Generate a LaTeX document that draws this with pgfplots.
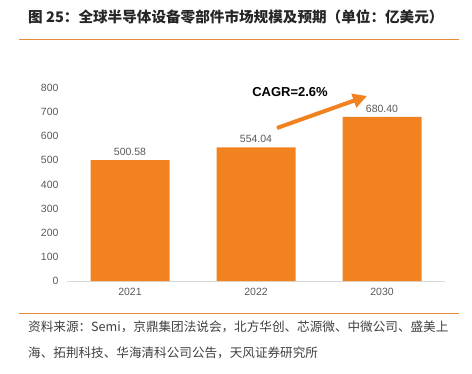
\documentclass[border=0pt]{standalone}
\usepackage{pgfplots}
\pgfplotsset{compat=1.18}
\usepackage{fontspec}
\setmainfont{Liberation Sans}
\newfontfamily\cjk{Noto Sans CJK SC}
\usetikzlibrary{arrows.meta}
\definecolor{barorange}{RGB}{242,130,32}
\definecolor{lineorange}{RGB}{232,140,60}
\definecolor{ticktext}{RGB}{89,89,89}
\definecolor{srctext}{RGB}{64,64,64}
\definecolor{axgray}{RGB}{217,217,217}
\begin{document}
\begin{tikzpicture}[x=1bp,y=1bp]
\useasboundingbox (0,0) rectangle (472,373);
\node[anchor=west,inner sep=0pt,text=black!85] at (28,356) {\cjk\bfseries\fontsize{14.6bp}{16bp}\selectfont 图 25：全球半导体设备零部件市场规模及预期（单位：亿美元）};
\draw[lineorange,line width=1bp] (19,334) -- (459,334);
\draw[lineorange,line width=1bp] (19,60) -- (459,60);
\begin{axis}[
  at={(67bp,92bp)}, anchor=south west,
  scale only axis, width=378bp, height=193bp,
  xmin=-0.5, xmax=2.5, ymin=0, ymax=800,
  ytick={0,100,...,800},
  xtick=data, xticklabels={2021,2022,2030},
  axis x line*=bottom, axis y line*=left,
  x axis line style={draw=axgray,line width=1bp},
  y axis line style={draw=none},
  major tick length=0pt,
  tick label style={font=\fontsize{10.5bp}{12bp}\selectfont, text=ticktext},
  yticklabel style={xshift=-5bp},
  xticklabel style={yshift=-4bp},
  /pgf/number format/assume math mode=true,
  clip=false,
]
\addplot[ybar, bar width=79bp, fill=barorange, draw=none,
  nodes near coords, nodes near coords align={vertical},
  every node near coord/.append style={font=\fontsize{10.5bp}{12bp}\selectfont, text=ticktext, yshift=1bp},
  point meta=explicit symbolic]
  table[meta=lab] {
x y lab
0 500.58 500.58
1 554.04 554.04
2 680.40 680.40
};
\end{axis}
\draw[barorange,line width=4bp,-{Triangle[length=14bp,width=14bp]}] (277,245) -- (367,277);
\node[font=\bfseries\fontsize{13bp}{15bp}\selectfont] at (290,281) {CAGR=2.6\%};
\node[anchor=west,inner sep=0pt,text=srctext] at (28,46) {\cjk\fontsize{12.6bp}{14bp}\selectfont 资料来源：Semi，京鼎集团法说会，北方华创、芯源微、中微公司、盛美上};
\node[anchor=west,inner sep=0pt,text=srctext] at (28,20) {\cjk\fontsize{12.6bp}{14bp}\selectfont 海、拓荆科技、华海清科公司公告，天风证券研究所};
\end{tikzpicture}
\end{document}
